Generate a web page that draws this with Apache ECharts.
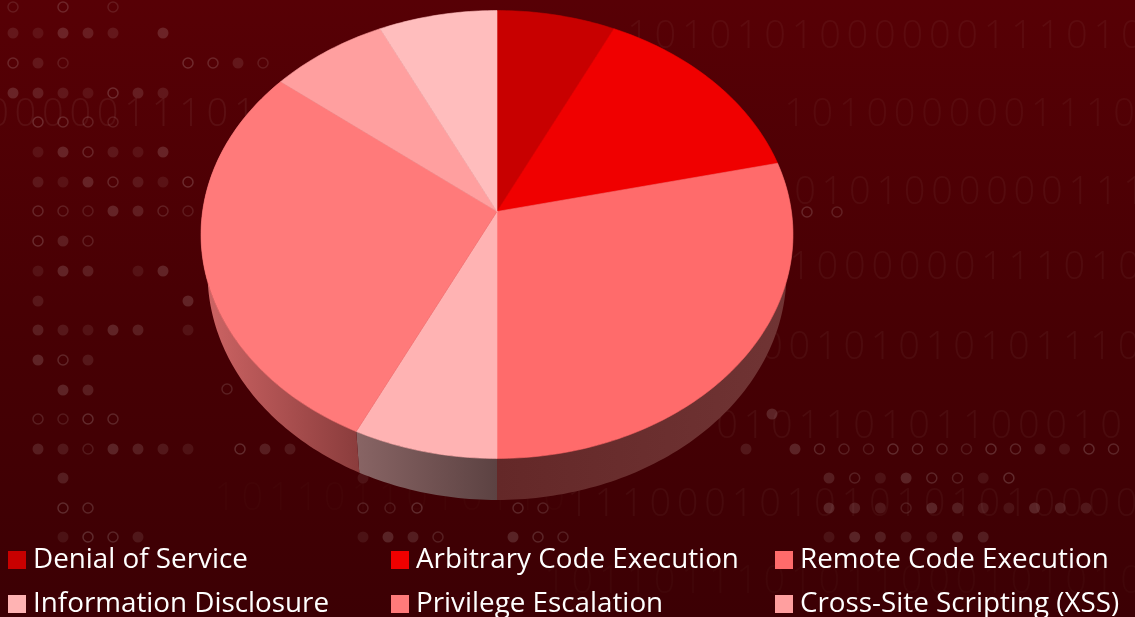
<!DOCTYPE html>
<html><head><meta charset="utf-8">
<style>html,body{margin:0;padding:0;background:#3c0004}#c{width:1135px;height:617px}</style>
<script src="https://cdn.jsdelivr.net/npm/echarts@6/dist/echarts.min.js"></script>
</head><body><div id="c"></div>
<script>
// ---- chart data ----
var categories = ['Denial of Service','Arbitrary Code Execution','Remote Code Execution','Information Disclosure','Privilege Escalation','Cross-Site Scripting (XSS)','Other'];
var values = [1, 2, 4, 1, 4, 1, 1];
var legendNames = categories.slice(0, 6);

// ---- background decoration ----
var digitRowText = ['1010101000000111010','00000111010','1010000001110','0101000000111','1000000111010','00101010101110','010110101100010','111000101010101010000','1011011010110','1011011101011000101010'];
var digitRowX = [638,-2,795,805,800,772,727,578,225,555];
var digitRowY = [37,115,115,193,268,348,427,505,499,582];
var digitRowAlpha = [.042,.06,.038,.042,.042,.042,.042,.04,.016,.022];
var dotRowText = ['o.o.o','*****.*','o*o....oo*o','****o**','.oooo','.**o***','.***o**o','.ooo**oo','.o*o','.***.**.*','.*.....*','.*****.*','.*o*','..**','.oooo','.**o****','..*','..oo','..*oo*','o**','*','ooo','oo','*oo','***o','*.*ooooooooo**oo','*o**oo*o','***o*******','*******','o','oo','*'];
var dotRowX = [13,13,13,13,13,13,13,13,13,13,13,13,13,13,13,13,13,13,13,240,363,363,518,513,363,746,829,829,829,227,807,772];
var dotRowY = [7,33,63,93,122,152,182,211,241,271,301,330,360,390,419,449,478,508,537,449,478,508,508,537,537,449,478,508,537,389,212,414];
var dotSpacing = [25,25,25,25,25,25,25,25,25,25,25,25,25,25,25,25,25,25,25,25,25,27,25,25,25,24.5,25.7,25.7,25.7,25,30,25];

// ---- geometry of the tilted disc ----
var HUB = {x: 497, y: 211.5}, A = 294.4, B = 221.6, K = 0.1027;
var TOP_E = {cy: 234.5, rx: 296, ry: 224};
var BOT_E = {cy: 273, rx: 289.5, ry: 227};
var colors = ['#c80000','#f00000','#ff6b6b','#ffb3b3','#ff7a7a','#ff9f9f','#ffbdbd'];
var sideFill = [null, null,
  {c0:'rgba(112,52,52,1)', c1:'rgba(100,40,40,1)', x0:790, x1:497},
  {c0:'rgba(136,100,100,1)', c1:'rgba(92,66,66,1)', x0:358, x1:497},
  {c0:'rgba(205,100,100,1)', c1:'rgba(138,60,60,1)', x0:205, x1:360},
  null, null];

var total = values.reduce(function(a,b){return a+b;},0);
function rim(t){ // t: fraction of a full turn, clockwise from the top
  var th = t*2*Math.PI, u = Math.sin(th), v = Math.cos(th), w = 1 + K*v;
  return [HUB.x + A*u/w, HUB.y - B*v/w];
}
function lower(p){
  var nx = (p[0]-HUB.x)/TOP_E.rx, ny = (p[1]-TOP_E.cy)/TOP_E.ry;
  return [HUB.x + nx*BOT_E.rx, BOT_E.cy + ny*BOT_E.ry];
}
function renderSlice(idx){
  return function(params, api){
    var start = api.value(0)/total, span = api.value(1)/total, n = Math.max(8, Math.round(span*360));
    var arc = [], i;
    for(i=0;i<=n;i++) arc.push(rim(start+span*i/n));
    var children = [];
    var sf = sideFill[idx];
    if(sf){
      var low = arc.map(lower).reverse();
      var sidePts = arc.concat(low).map(function(p){return api.coord(p);});
      var a = api.coord([sf.x0,0])[0], b = api.coord([sf.x1,0])[0];
      children.push({type:'polygon', z2:1, shape:{points:sidePts},
        style:{fill:new echarts.graphic.LinearGradient(a,0,b,0,[{offset:0,color:sf.c0},{offset:1,color:sf.c1}],true)}});
    }
    var topPts = [[HUB.x,HUB.y]].concat(arc).map(function(p){return api.coord(p);});
    children.push({type:'polygon', z2:5, shape:{points:topPts}, style:{fill:colors[idx], stroke:colors[idx], lineWidth:0.6}});
    return {type:'group', children:children};
  };
}
var cum = 0;
var series = categories.map(function(name,i){
  var s = {type:'custom', name:name, coordinateSystem:'cartesian2d', silent:true, clip:false,
    itemStyle:{color:colors[i]}, data:[[cum, values[i]]], encode:{x:0,y:1}, renderItem:renderSlice(i)};
  cum += values[i];
  return s;
});

// background digits and dots
var deco = [];
digitRowText.forEach(function(str,r){
  str.split('').forEach(function(ch,i){
    deco.push({type:'text', silent:true, z:0, x:digitRowX[r]+i*27.43, y:digitRowY[r],
      style:{text:ch, font:'300 38px "Open Sans", Lato, sans-serif', fill:'rgba(255,255,255,'+digitRowAlpha[r]+')', align:'center', verticalAlign:'middle'}});
  });
});
dotRowText.forEach(function(str,r){
  str.split('').forEach(function(ch,i){
    if(ch==='.') return;
    var a = 0.07 + ((i*7+r*5)%4)*0.022;
    var cx = dotRowX[r]+i*dotSpacing[r], cy = dotRowY[r];
    deco.push(ch==='*'
      ? {type:'circle', silent:true, z:0, shape:{cx:cx,cy:cy,r:5.5}, style:{fill:'rgba(255,255,255,'+a+')'}}
      : {type:'circle', silent:true, z:0, shape:{cx:cx,cy:cy,r:5}, style:{fill:'none',stroke:'rgba(255,255,255,'+(a+0.03)+')',lineWidth:1.5}});
  });
});

var legendX = [8,391,775], legendY = [546,590];
var legends = legendNames.map(function(name,i){
  return {data:[name], left:legendX[i%3], top:legendY[i<3?0:1], padding:0, itemGap:0,
    itemWidth:18, itemHeight:18, icon:'rect', selectedMode:false,
    textStyle:{color:'#ffffff', fontFamily:'"Open Sans", sans-serif', fontSize:27.8, padding:[0,0,0,2]}};
});

var chart = echarts.init(document.getElementById('c'), null, {renderer:'canvas'});
chart.setOption({
  animation:false,
  backgroundColor:new echarts.graphic.LinearGradient(0,0,0,1,[{offset:0,color:'#570005'},{offset:0.5,color:'#480004'},{offset:1,color:'#3c0004'}]),
  grid:{left:0,right:0,top:0,bottom:0},
  xAxis:{type:'value',min:0,max:1135,show:false},
  yAxis:{type:'value',min:0,max:617,inverse:true,show:false},
  legend:legends,
  graphic:{elements:deco},
  series:series
});
</script></body></html>
